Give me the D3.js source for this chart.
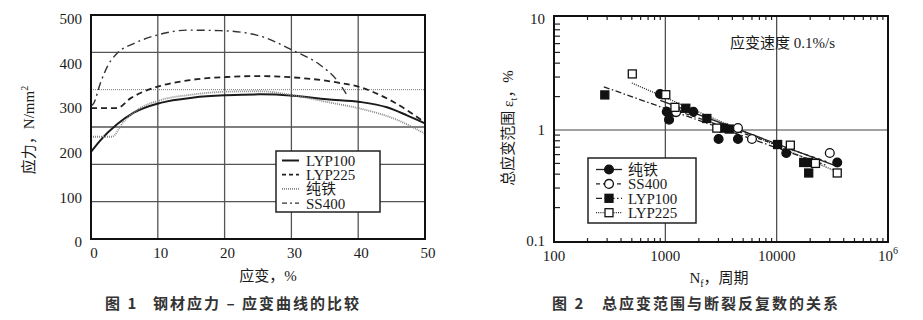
<!DOCTYPE html>
<html>
<head>
<meta charset="utf-8">
<script src="https://cdn.jsdelivr.net/npm/d3@7/dist/d3.min.js"></script>
<style>
  body { margin: 0; background: #fff; }
  text { font-family: "Liberation Serif", "Noto Sans CJK SC", serif; fill: #1a1a1a; }
  .cap { font-family: "Noto Sans CJK SC", sans-serif; font-weight: bold; font-size: 15px; letter-spacing: 2px; fill: #333; }
  .tick { font-size: 15px; }
</style>
</head>
<body>
<div id="chart"></div>
<script>
(function(d3) {
  'use strict';

  // ---- figure 1: stress-strain curves ----
  var lyp100 = [[0,202],[1.4,228],[3.9,264],[6.4,290],[10.4,312],[15.4,324],[20.3,329],[25.3,331],[30.3,328],[35.3,320],[40.3,314],[44.3,302],[47.3,284],[50,266]];
  var lyp225 = [[0,300],[3.9,300],[5.9,322],[8,338],[10.4,350],[14.8,363],[20.3,370],[24.8,372],[30.3,369],[36.3,359],[40.3,347],[44.8,318],[50,268]];
  var pureIron = [[0,236],[3.1,236],[4.9,270],[7,297],[10.4,318],[15.4,331],[20.3,337],[25.3,338],[30.3,329],[35.3,314],[40.3,299],[45.3,277],[50,243]];
  var ss400 = [[0,305],[0.4,311],[1.4,356],[2.5,395],[3.9,423],[6.4,445],[9.9,464],[14.4,475],[19.3,474],[24.8,464],[30.3,429],[34.3,397],[36.8,363],[38.5,325]];
  var xTicks1 = [0, 10, 20, 30, 40, 50];
  var yTicks1 = [0, 100, 200, 300, 400, 500];

  // ---- figure 2: strain range vs. cycles ----
  var ironPts = [[896,2.11],[1030,1.46],[1080,1.24],[1203,1.46],[1786,1.46],[3008,0.83],[4490,0.83],[12200,0.62],[35000,0.51]];
  var ss400Pts = [[1250,1.45],[4490,1.04],[6000,0.83],[30000,0.62]];
  var lyp100Pts = [[286,2.07],[1527,1.57],[2360,1.27],[3336,1.04],[3750,1.02],[10200,0.74],[17500,0.51],[19400,0.51],[19400,0.41]];
  var lyp225Pts = [[505,3.2],[1009,2.08],[1220,1.6],[2900,1.04],[13270,0.73],[22300,0.5],[35000,0.41]];
  var ironFit = [[900,1.85],[35000,0.47]];
  var ss400Fit = [[1000,1.62],[28000,0.52]];
  var lyp100Fit = [[280,2.45],[28000,0.48]];
  var lyp225Fit = [[500,2.65],[33000,0.43]];
  var xTicks2 = [100, 1000, 10000, 100000];
  var xTickLabels2 = ['100', '1000', '10000', '10^6'];
  var yTicks2 = [0.1, 1, 10];
  var yTickLabels2 = ['0.1', '1', '10'];

  var svg = d3.select('#chart').append('svg')
    .attr('width', 923).attr('height', 320);

  // ================= figure 1 =================
  var f1 = { left: 91, right: 425, top: 15, bottom: 239 };
  var x1 = d3.scaleLinear().domain([0, 50]).range([f1.left, f1.right]);
  var y1 = d3.scaleLinear().domain([0, 500]).range([242, 19]);
  var g1 = svg.append('g');

  // vertical grid
  g1.selectAll('.vg').data(xTicks1.slice(1, -1)).enter().append('line')
    .attr('x1', function(d) { return x1(d); }).attr('x2', function(d) { return x1(d); })
    .attr('y1', f1.top).attr('y2', f1.bottom)
    .attr('stroke', '#555').attr('stroke-width', 1.3);

  // horizontal grid (the original divides the frame in six)
  var hStep = (f1.bottom - f1.top) / 6;
  g1.selectAll('.hg').data(d3.range(1, 6)).enter().append('line')
    .attr('x1', f1.left).attr('x2', f1.right)
    .attr('y1', function(i) { return f1.top + i * hStep; })
    .attr('y2', function(i) { return f1.top + i * hStep; })
    .attr('stroke', function(i) { return i === 2 ? '#777' : '#555'; })
    .attr('stroke-width', function(i) { return i === 2 ? 1 : 1.3; })
    .attr('stroke-dasharray', function(i) { return i === 2 ? '1,1' : null; });

  var line1 = d3.line()
    .x(function(d) { return x1(d[0]); })
    .y(function(d) { return y1(d[1]); })
    .curve(d3.curveMonotoneX);

  var series1 = [
    { name: 'LYP100', data: lyp100, color: '#1a1a1a', width: 2, dash: null },
    { name: 'LYP225', data: lyp225, color: '#222', width: 1.8, dash: '6,4' },
    { name: '纯铁', data: pureIron, color: '#888', width: 1.8, dash: '1,1' },
    { name: 'SS400', data: ss400, color: '#333', width: 1.4, dash: '8,4,2,4' }
  ];

  g1.selectAll('.curve').data(series1).enter().append('path')
    .attr('d', function(d) { return line1(d.data); })
    .attr('fill', 'none')
    .attr('stroke', function(d) { return d.color; })
    .attr('stroke-width', function(d) { return d.width; })
    .attr('stroke-dasharray', function(d) { return d.dash; });

  g1.append('rect')
    .attr('x', f1.left).attr('y', f1.top)
    .attr('width', f1.right - f1.left).attr('height', f1.bottom - f1.top)
    .attr('fill', 'none').attr('stroke', '#111').attr('stroke-width', 2);

  g1.selectAll('.yl').data(yTicks1).enter().append('text')
    .attr('class', 'tick')
    .attr('x', 82).attr('y', function(d) { return y1(d); })
    .attr('dy', '0.35em').attr('text-anchor', 'end')
    .text(function(d) { return d; });

  g1.selectAll('.xl').data(xTicks1).enter().append('text')
    .attr('class', 'tick')
    .attr('x', function(d) { return x1(d) + 3; }).attr('y', 258)
    .attr('text-anchor', 'middle')
    .text(function(d) { return d; });

  // legend 1
  var lg1 = g1.append('g').attr('transform', 'translate(276,151)');
  lg1.append('rect').attr('width', 104).attr('height', 61)
    .attr('fill', '#fff').attr('stroke', '#222').attr('stroke-width', 1.5);
  var le1 = lg1.selectAll('.le').data(series1).enter().append('g')
    .attr('transform', function(d, i) { return 'translate(0,' + (9.5 + i * 14.2) + ')'; });
  le1.append('line').attr('x1', 6).attr('x2', 23)
    .attr('stroke', function(d) { return d.color; })
    .attr('stroke-width', function(d) { return d.width; })
    .attr('stroke-dasharray', function(d) { return d.dash === '8,4,2,4' ? '5,3,2,3' : (d.dash === '6,4' ? '4,3' : d.dash); });
  le1.append('text').attr('x', 30).attr('dy', '0.36em')
    .style('font-size', '15px')
    .text(function(d) { return d.name; });

  // axis titles 1
  var yt1 = g1.append('text')
    .attr('transform', 'translate(34,130) rotate(-90)')
    .attr('text-anchor', 'middle').style('font-size', '15px');
  yt1.append('tspan').text('应力，N/mm');
  yt1.append('tspan').attr('dy', -6).style('font-size', '10px').text('2');

  g1.append('text').attr('x', 268).attr('y', 281)
    .attr('text-anchor', 'middle').style('font-size', '15px')
    .text('应变，%');

  var c1 = g1.append('text').attr('class', 'cap').attr('x', 105).attr('y', 309);
  c1.append('tspan').text('图 1');
  c1.append('tspan').attr('x', 153).text('钢材应力 – 应变曲线的比较');

  // ================= figure 2 =================
  var f2 = { left: 554, right: 888, top: 16, bottom: 242 };
  var x2 = d3.scaleLog().domain([100, 100000]).range([f2.left, f2.right]);
  var y2 = d3.scaleLog().domain([0.1, 10]).range([241, 19]);
  var g2 = svg.append('g');

  // grid
  g2.selectAll('.vg').data([1000, 10000]).enter().append('line')
    .attr('x1', function(d) { return x2(d); }).attr('x2', function(d) { return x2(d); })
    .attr('y1', f2.top).attr('y2', f2.bottom)
    .attr('stroke', '#444').attr('stroke-width', 1.2);
  g2.append('line')
    .attr('x1', f2.left).attr('x2', f2.right)
    .attr('y1', y2(1)).attr('y2', y2(1))
    .attr('stroke', '#444').attr('stroke-width', 1.2);

  // minor ticks
  var xMinor = [];
  [100, 1000, 10000].forEach(function(b) {
    d3.range(2, 10).forEach(function(k) { xMinor.push(b * k); });
  });
  var yMinor = [];
  [0.1, 1].forEach(function(b) {
    d3.range(2, 10).forEach(function(k) { yMinor.push(b * k); });
  });

  g2.selectAll('.tt').data(xMinor).enter().append('line')
    .attr('x1', function(d) { return x2(d); }).attr('x2', function(d) { return x2(d); })
    .attr('y1', f2.top).attr('y2', f2.top + 4)
    .attr('stroke', '#222').attr('stroke-width', 1.2);
  g2.selectAll('.bt').data(xMinor).enter().append('line')
    .attr('x1', function(d) { return x2(d); }).attr('x2', function(d) { return x2(d); })
    .attr('y1', f2.bottom).attr('y2', f2.bottom - 4)
    .attr('stroke', '#222').attr('stroke-width', 1.2);
  g2.selectAll('.lt').data(yMinor).enter().append('line')
    .attr('x1', f2.left).attr('x2', f2.left + 6)
    .attr('y1', function(d) { return y2(d); }).attr('y2', function(d) { return y2(d); })
    .attr('stroke', '#222').attr('stroke-width', 1.2);

  var line2 = d3.line()
    .x(function(d) { return x2(d[0]); })
    .y(function(d) { return y2(d[1]); });

  var series2 = [
    { name: '纯铁', pts: ironPts, fit: ironFit, dash: null, shape: 'circle', fill: '#111' },
    { name: 'LYP100', pts: lyp100Pts, fit: lyp100Fit, dash: '6,2.5,1.5,2.5', shape: 'square', fill: '#111' },
    { name: 'SS400', pts: ss400Pts, fit: ss400Fit, dash: '4,3', shape: 'circle', fill: '#fff' },
    { name: 'LYP225', pts: lyp225Pts, fit: lyp225Fit, dash: '1,1.2', shape: 'square', fill: '#fff' }
  ];

  g2.selectAll('.fit').data(series2).enter().append('path')
    .attr('d', function(d) { return line2(d.fit); })
    .attr('fill', 'none').attr('stroke', '#222').attr('stroke-width', 1.3)
    .attr('stroke-dasharray', function(d) { return d.dash; });

  function marker(sel, s, cx, cy) {
    if (s.shape === 'circle') {
      sel.append('circle').attr('cx', cx).attr('cy', cy).attr('r', 4.4)
        .attr('fill', s.fill).attr('stroke', '#111').attr('stroke-width', 1.3);
    } else {
      sel.append('rect').attr('x', cx - 4).attr('y', cy - 4)
        .attr('width', 8).attr('height', 8)
        .attr('fill', s.fill).attr('stroke', '#111').attr('stroke-width', 1.3);
    }
  }

  series2.forEach(function(s) {
    var gs = g2.append('g');
    s.pts.forEach(function(p) { marker(gs, s, x2(p[0]), y2(p[1])); });
  });

  g2.append('rect')
    .attr('x', f2.left).attr('y', f2.top)
    .attr('width', f2.right - f2.left).attr('height', f2.bottom - f2.top)
    .attr('fill', 'none').attr('stroke', '#111').attr('stroke-width', 2);

  g2.selectAll('.yl').data(yTicks2).enter().append('text')
    .attr('class', 'tick')
    .attr('x', 545).attr('y', function(d) { return y2(d); })
    .attr('dy', '0.35em').attr('text-anchor', 'end')
    .text(function(d, i) { return yTickLabels2[i]; });

  g2.selectAll('.xl').data(xTicks2).enter().append('text')
    .attr('class', 'tick')
    .attr('x', function(d) { return x2(d); }).attr('y', 261)
    .attr('text-anchor', 'middle')
    .each(function(d, i) {
      var parts = xTickLabels2[i].split('^');
      var t = d3.select(this);
      t.append('tspan').text(parts[0]);
      if (parts[1]) t.append('tspan').attr('dy', -7).style('font-size', '10px').text(parts[1]);
    });

  // annotation
  g2.append('text').attr('x', 730).attr('y', 48).style('font-size', '15px')
    .text('应变速度 0.1%/s');

  // legend 2 (order as in the original)
  var legendOrder = [series2[0], series2[2], series2[1], series2[3]];
  var lg2 = g2.append('g').attr('transform', 'translate(588,158)');
  lg2.append('rect').attr('width', 108).attr('height', 65)
    .attr('fill', '#fff').attr('stroke', '#222').attr('stroke-width', 1.5);
  var le2 = lg2.selectAll('.le').data(legendOrder).enter().append('g')
    .attr('transform', function(d, i) { return 'translate(0,' + (11.5 + i * 14.4) + ')'; });
  le2.append('line').attr('x1', 8).attr('x2', 34)
    .attr('stroke', '#222').attr('stroke-width', 1.3)
    .attr('stroke-dasharray', function(d) { return d.dash; });
  le2.each(function(d) { marker(d3.select(this), d, 21, 0); });
  le2.append('text').attr('x', 40).attr('dy', '0.36em')
    .style('font-size', '15px')
    .text(function(d) { return d.name; });

  // axis titles 2
  var yt2 = g2.append('text')
    .attr('transform', 'translate(513,128) rotate(-90)')
    .attr('text-anchor', 'middle').style('font-size', '15px');
  yt2.append('tspan').text('总应变范围 ε');
  yt2.append('tspan').attr('dy', 4).style('font-size', '10px').text('t');
  yt2.append('tspan').attr('dy', -4).text('，%');

  var xt2 = g2.append('text').attr('x', 719).attr('y', 283)
    .attr('text-anchor', 'middle').style('font-size', '15px');
  xt2.append('tspan').text('N');
  xt2.append('tspan').attr('dy', 4).style('font-size', '10px').text('f');
  xt2.append('tspan').attr('dy', -4).text('，周期');

  var c2 = g2.append('text').attr('class', 'cap').attr('x', 552).attr('y', 309);
  c2.append('tspan').text('图 2');
  c2.append('tspan').attr('x', 602).text('总应变范围与断裂反复数的关系');

})(window.d3);
</script>
</body>
</html>
